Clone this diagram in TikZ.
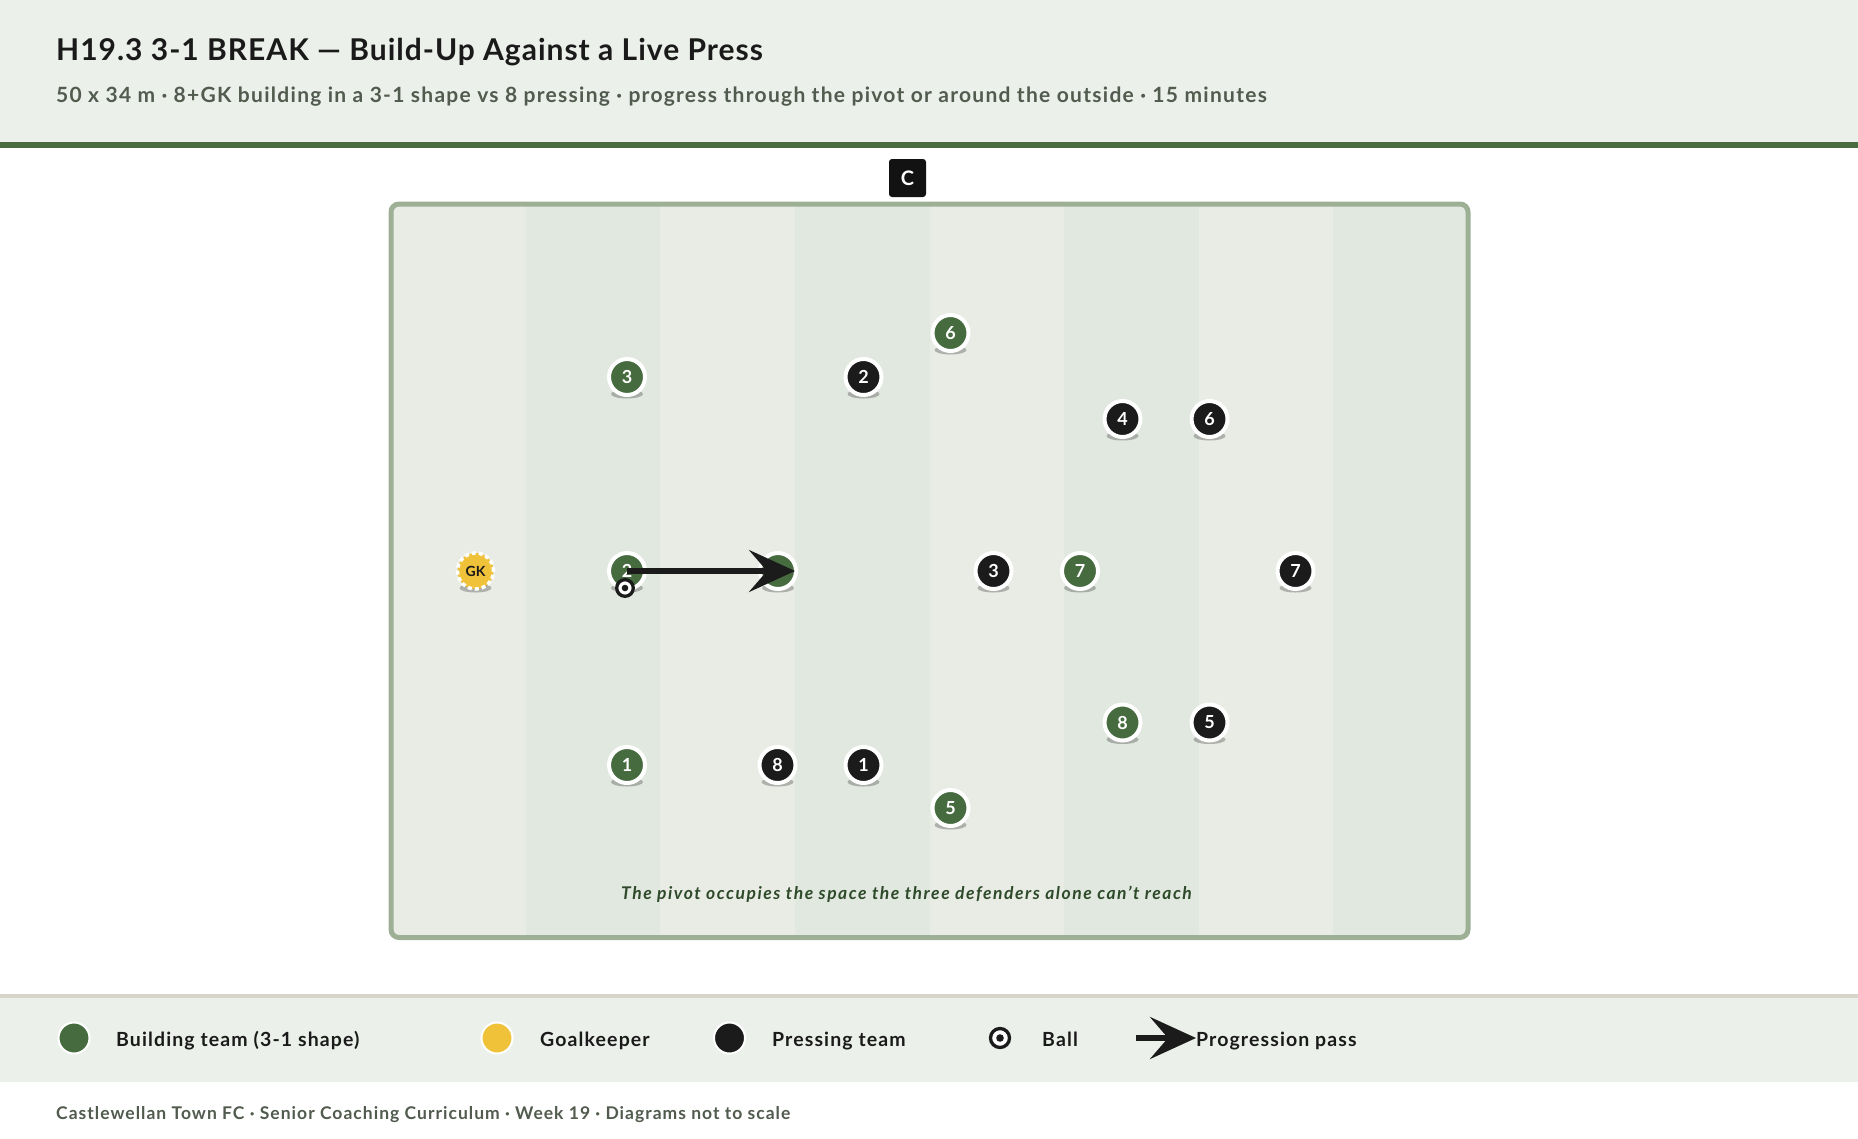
\documentclass[tikz,border=0pt]{standalone}
\usepackage{fontspec}
\setmainfont{Lato}
\usetikzlibrary{arrows.meta}
\definecolor{hdrbg}{HTML}{ECF0EB}
\definecolor{rulegreen}{HTML}{4A6B3F}
\definecolor{pgreen}{HTML}{466B3F}
\definecolor{pblack}{HTML}{1B1B1B}
\definecolor{gkyel}{HTML}{F0C23A}
\definecolor{stripeA}{HTML}{E9ECE5}
\definecolor{stripeB}{HTML}{E1E8DF}
\definecolor{pborder}{HTML}{9DB096}
\definecolor{subgray}{HTML}{515B4E}
\definecolor{capgreen}{HTML}{2E4A2A}
\definecolor{legline}{HTML}{D8D4C9}
\definecolor{titleblack}{HTML}{1A1A1A}
\newcommand\plyr[5]{%
  \fill[black, opacity=0.25] (#2,#3+17) ellipse [x radius=16pt, y radius=4.5pt];
  \node[#4] (#1) at (#2,#3) {#5};}
\tikzset{
  plbase/.style={circle, minimum size=36pt, inner sep=0pt, draw=white, line width=4pt,
    text=white, font=\bfseries\fontsize{18}{18}\selectfont},
  gplayer/.style={plbase, fill=pgreen},
  bplayer/.style={plbase, fill=pblack},
  gkplayer/.style={plbase, fill=gkyel, text=titleblack, dash pattern=on 4pt off 3pt,
    line width=3.5pt, font=\bfseries\fontsize{14}{14}\selectfont},
  pass/.style={draw=pblack, line width=5.5pt, -{Stealth[length=46pt, width=42pt, inset=18pt]}},
  legdot/.style={circle, minimum size=31pt, inner sep=0pt, draw=white, line width=2pt},
  legtxt/.style={anchor=base west, inner sep=0pt, text=titleblack, font=\bfseries\fontsize{19.5}{22}\selectfont\addfontfeatures{LetterSpace=5.7}},
}
\begin{document}
\begin{tikzpicture}[x=1pt, y=-1pt]
\useasboundingbox (0,0) rectangle (1858,1138);
\fill[white] (0,0) rectangle (1858,1138);
% header
\fill[hdrbg] (0,0) rectangle (1858,142);
\fill[rulegreen] (0,142) rectangle (1858,148);
\node[anchor=base west, inner sep=0pt, text=titleblack, font=\bfseries\fontsize{30}{36}\selectfont\addfontfeatures{LetterSpace=3.3}] (title) at (56,60) {H19.3 3-1 BREAK — Build-Up Against a Live Press};
\node[anchor=base west, inner sep=0pt, text=subgray, font=\bfseries\fontsize{21}{26}\selectfont\addfontfeatures{LetterSpace=6.1}] (subtitle) at (56,102) {50 x 34 m · 8+GK building in a 3-1 shape vs 8 pressing · progress through the pivot or around the outside · 15 minutes};
% pitch
\begin{scope}
  \clip[rounded corners=8pt] (391,204) rectangle (1468,937.5);
  \fill[stripeA] (391,204) rectangle (1468,937.5);
  \foreach \k in {1,3,5,7}
    \fill[stripeB] ({391+\k*134.625},204) rectangle ({391+(\k+1)*134.625},937.5);
\end{scope}
\draw[pborder, line width=5pt, rounded corners=8pt] (391,204) rectangle (1468,937.5);
\node[fill=black!93, text=white, font=\bfseries\fontsize{20}{24}\selectfont, minimum width=37pt, minimum height=38pt, rounded corners=3pt, inner sep=0pt] (cbox) at (907.5,178) {C};
% building team
\plyr{gk}{475.5}{571}{gkplayer}{GK}
\plyr{g3}{627}{377}{gplayer}{3}
\plyr{g6}{950.5}{333}{gplayer}{6}
\plyr{g2}{627}{571}{gplayer}{2}
\plyr{gpv}{778}{571}{gplayer}{}
\plyr{g7}{1080}{571}{gplayer}{7}
\plyr{g8}{1122.5}{722.5}{gplayer}{8}
\plyr{g1}{627}{765}{gplayer}{1}
\plyr{g5}{950.5}{808}{gplayer}{5}
% pressing team
\plyr{b2}{863.5}{377}{bplayer}{2}
\plyr{b4}{1122.5}{419}{bplayer}{4}
\plyr{b6}{1209.5}{419}{bplayer}{6}
\plyr{b3}{993.5}{571}{bplayer}{3}
\plyr{b7}{1295.5}{571}{bplayer}{7}
\plyr{b5}{1209.5}{722.5}{bplayer}{5}
\plyr{b8}{777.5}{765}{bplayer}{8}
\plyr{b1}{863.5}{765}{bplayer}{1}
% pass
\draw[pass] (g2.center) -- ([xshift=-3pt]gpv.east);
% ball
\node[circle, minimum size=16.6pt, inner sep=0pt, fill=white, draw=pblack, line width=3.3pt] (ball) at (625,588) {};
\fill[pblack] (ball.center) circle [radius=3.3pt];
% caption
\node[text=capgreen, font=\bfseries\itshape\fontsize{17.5}{22}\selectfont\addfontfeatures{LetterSpace=8.7}, anchor=base, inner sep=0pt] (caption) at (906.5,899) {The pivot occupies the space the three defenders alone can't reach};
% legend
\fill[legline] (0,994) rectangle (1858,997.5);
\fill[hdrbg] (0,997.5) rectangle (1858,1082);
\node[legdot, fill=pgreen] (lg) at (74,1038) {};
\node[legtxt] (lgt) at (116,1046) {Building team (3-1 shape)};
\node[legdot, fill=gkyel] (lk) at (497,1038) {};
\node[legtxt] (lkt) at (540,1046) {Goalkeeper};
\node[legdot, fill=pblack] (lb) at (729.5,1038) {};
\node[legtxt] (lbt) at (772,1046) {Pressing team};
\node[circle, minimum size=19pt, inner sep=0pt, fill=white, draw=pblack, line width=3.3pt] (lball) at (1000,1038) {};
\fill[pblack] (lball.center) circle [radius=3.8pt];
\node[legtxt] (lballt) at (1042,1046) {Ball};
\coordinate (la1) at (1136,1038);
\coordinate (la2) at (1196,1038);
\draw[pass] (la1) -- (la2);
\node[legtxt] (lat) at (1196,1046) {Progression pass};
% footer
\node[anchor=base west, inner sep=0pt, text=subgray, font=\bfseries\fontsize{17.5}{20}\selectfont\addfontfeatures{LetterSpace=5.8}] (footer) at (56,1119) {Castlewellan Town FC · Senior Coaching Curriculum · Week 19 · Diagrams not to scale};
\end{tikzpicture}
\end{document}
